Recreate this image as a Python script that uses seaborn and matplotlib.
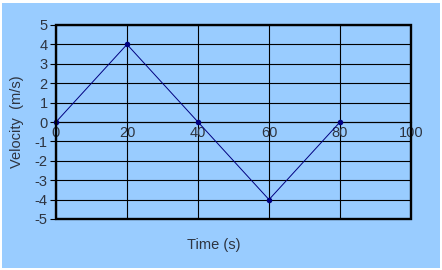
import matplotlib
matplotlib.use("Agg")
import matplotlib.pyplot as plt
from matplotlib.patches import Rectangle
import seaborn as sns
import pandas as pd

time_s = [0, 20, 40, 60, 80]
velocity = [0, 4, 0, -4, 0]
x_ticks = [0, 20, 40, 60, 80, 100]
y_ticks = [-5, -4, -3, -2, -1, 0, 1, 2, 3, 4, 5]

sns.set_style("white")
plt.rcParams['font.family'] = ['Liberation Sans', 'DejaVu Sans']
plt.rcParams['axes.unicode_minus'] = False

BG = "#99CCFF"
TXT = "#2E3440"

fig = plt.figure(figsize=(4.42, 2.70), dpi=100, facecolor="white")
fig.patches.append(Rectangle((2/442, 2/270), 438/442, 265/270, transform=fig.transFigure,
                             facecolor=BG, edgecolor="none", zorder=-10))
ax = fig.add_axes([56/442, 1 - 219/270, 355/442, 194/270])
ax.set_facecolor(BG)

df = pd.DataFrame({"Time": time_s, "Velocity": velocity})
sns.lineplot(data=df, x="Time", y="Velocity", ax=ax, color="#000080", linewidth=0.7,
             marker="o", markersize=4, markeredgewidth=0, zorder=5, clip_on=False)

ax.set_xlim(x_ticks[0], x_ticks[-1])
ax.set_ylim(y_ticks[0], y_ticks[-1])
ax.set_xticks(x_ticks)
ax.set_yticks(y_ticks)
ax.set_yticklabels([str(v) for v in y_ticks])
ax.set_xticklabels([str(v) for v in x_ticks])
ax.grid(True, color="black", linewidth=0.8)
ax.set_axisbelow(True)

for s in ["top", "right", "left"]:
    ax.spines[s].set_visible(False)
ax.spines["bottom"].set_position(("data", 0))
ax.spines["bottom"].set_linewidth(0.8)
ax.spines["bottom"].set_color("black")
ax.add_patch(Rectangle((0, 0), 1, 1, transform=ax.transAxes, fill=False,
                       edgecolor="black", linewidth=1.7, zorder=6, clip_on=False))

ax.tick_params(axis="y", direction="out", length=4, width=0.8, color="black", pad=2,
               labelsize=10.5, labelcolor=TXT, left=True)
ax.tick_params(axis="x", direction="inout", length=0, pad=3, labelsize=10.5, labelcolor=TXT)

ax.set_xlabel("")
ax.set_ylabel("")
fig.text(214/442, 1 - 245/270, "Time (s)", ha="center", va="center", fontsize=10.5, color=TXT)
fig.text(17/442, 1 - 122/270, "Velocity  (m/s)", ha="center", va="center", rotation=90,
         fontsize=10.5, color=TXT)

fig.savefig("out.png", dpi=100, facecolor="white")
